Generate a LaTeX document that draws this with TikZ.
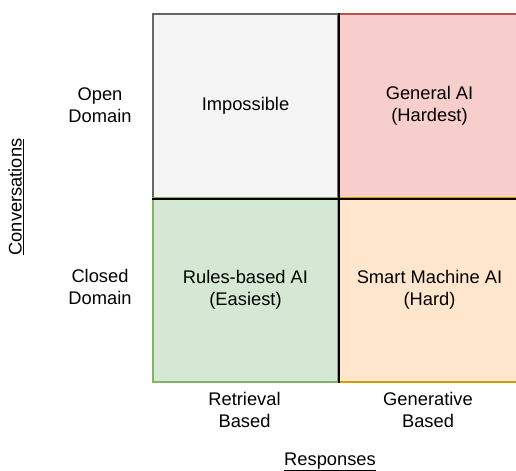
\documentclass[tikz,border=0pt]{standalone}
\usepackage{fontspec}
\setmainfont{Liberation Sans}
\newcommand\quadfont{\fontsize{18.3bp}{22bp}\selectfont}
\definecolor{grayfill}{HTML}{F5F5F5}
\definecolor{grayline}{HTML}{666666}
\definecolor{redfill}{HTML}{F8CECC}
\definecolor{redline}{HTML}{B85450}
\definecolor{greenfill}{HTML}{D5E8D4}
\definecolor{greenline}{HTML}{82B366}
\definecolor{orangefill}{HTML}{FFE6CC}
\definecolor{orangeline}{HTML}{D79B00}
\begin{document}
\begin{tikzpicture}[x=1bp,y=-1bp,
  quad/.style={draw, line width=2bp, anchor=north west, inner sep=0pt,
    align=center, font=\quadfont},
  lbl/.style={align=center, font=\quadfont, inner sep=0pt},
  divider/.style={line width=2.6bp, black}]
\useasboundingbox (0,0) rectangle (516,471);
\clip (0,0) rectangle (516,471);

% the four quadrants of the matrix
\node[quad, fill=grayfill, draw=grayline, minimum width=185bp, minimum height=183.5bp]
  (tl) at (152,13.5) {Impossible};
\node[quad, fill=redfill, draw=redline, minimum width=183bp, minimum height=183.5bp]
  (tr) at (337,13.5) {General AI\\(Hardest)};
\node[quad, fill=greenfill, draw=greenline, minimum width=185bp, minimum height=184bp]
  (bl) at (152,197) {Rules-based AI\\(Easiest)};
\node[quad, fill=orangefill, draw=orangeline, minimum width=183bp, minimum height=184bp]
  (br) at (337,197) {Smart Machine AI\\(Hard)};

% black cross separating the quadrants
\draw[divider] (tl.north east) -- (bl.south east);
\draw[divider] (tl.south west) -- (tr.south east);

% row labels
\node[lbl] (open) at (100,105) {Open\\Domain};
\node[lbl] (closed) at (100,287) {Closed\\Domain};
\node[lbl, rotate=90] (conv) at (16,197) {\underline{Conversations}};

% column labels
\node[lbl] (retr) at (244.5,410) {Retrieval\\Based};
\node[lbl] (gen) at (428,410) {Generative\\Based};
\node[lbl] (resp) at (330,462) {\underline{Responses}};
\end{tikzpicture}
\end{document}
